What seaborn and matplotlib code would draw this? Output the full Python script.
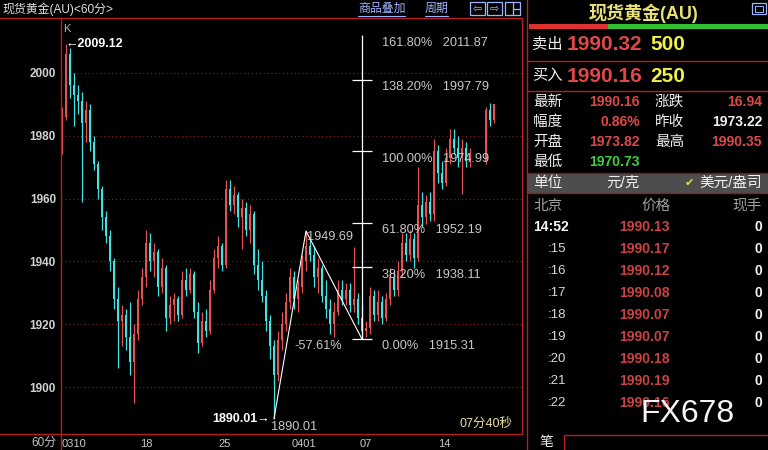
import numpy as np
import pandas as pd
import seaborn as sns
import matplotlib.pyplot as plt
from matplotlib.patches import Rectangle

# K线数据 (0310 - 0418)
opens = [1976, 1986, 2006, 1996, 1993, 1991, 1984, 1988, 1978, 1971,
         1963, 1954, 1948, 1940, 1928, 1921, 1923, 1916, 1908, 1917,
         1928, 1935, 1946, 1940, 1943, 1932, 1938, 1922, 1926, 1928,
         1923, 1934, 1931, 1936, 1924, 1914, 1921, 1918, 1931, 1941,
         1945, 1939, 1963, 1958, 1961, 1954, 1957, 1950, 1955, 1939,
         1934, 1929, 1921, 1913, 1904, 1915, 1920, 1927, 1935, 1928,
         1932, 1940, 1945, 1942, 1935, 1938, 1929, 1925, 1920, 1924,
         1931, 1928, 1931, 1926, 1928, 1922, 1918, 1919, 1929, 1923,
         1927, 1922, 1928, 1935, 1931, 1937, 1946, 1942, 1947, 1941,
         1958, 1954, 1959, 1955, 1975, 1968, 1965, 1973, 1979, 1976,
         1973, 1976, 1972, np.nan, np.nan, np.nan, 1972, 1988, 1985]
highs = [1989, 2009.12, 2008, 2000, 1996, 1994, 1991, 1990, 1980, 1972,
         1964, 1956, 1950, 1941, 1932, 1926, 1925, 1927, 1920, 1931,
         1938, 1950, 1949, 1946, 1944, 1941, 1939, 1929, 1930, 1929,
         1937, 1938, 1938, 1937, 1927, 1924, 1925, 1934, 1944, 1948,
         1946, 1966, 1966, 1964, 1962, 1960, 1959, 1958, 1956, 1944,
         1940, 1931, 1923, 1915, 1918, 1924, 1930, 1938, 1937, 1934,
         1942, 1949.69, 1947, 1945, 1941, 1939, 1934, 1928, 1927, 1934,
         1934, 1933, 1933, 1944.6, 1930, 1926, 1921, 1932, 1931, 1931,
         1929, 1930, 1938, 1937, 1940, 1949, 1949, 1950, 1949, 1970,
         1962, 1961, 1962, 1979, 1977, 1972, 1976, 1982, 1982, 1980,
         1979, 1978, 1976, np.nan, np.nan, np.nan, 1989, 1990.35, 1990.2]
lows = [1974, 1985, 1992, 1983, 1987, 1959, 1978, 1975, 1969, 1960,
        1950, 1946, 1937, 1925, 1906, 1913, 1912, 1904, 1895, 1915,
        1926, 1932, 1937, 1935, 1929, 1930, 1918, 1920, 1921, 1921,
        1922, 1929, 1930, 1922, 1911, 1913, 1916, 1917, 1930, 1938,
        1937, 1938, 1956, 1955, 1951, 1944, 1948, 1946, 1936, 1931,
        1927, 1918, 1909, 1890.01, 1902, 1912, 1918, 1925, 1925, 1924,
        1930, 1937, 1940, 1932, 1930, 1927, 1922, 1917, 1916, 1923,
        1926, 1926, 1924, 1924, 1920, 1915.31, 1916, 1917, 1921, 1921,
        1920, 1921, 1926, 1929, 1929, 1935, 1940, 1940, 1938, 1940,
        1951, 1952, 1953, 1953, 1965, 1963, 1964, 1971, 1974, 1970,
        1961.5, 1970, 1970, np.nan, np.nan, np.nan, 1971, 1983, 1984]
closes = [1986, 2006, 1996, 1993, 1991, 1984, 1988, 1978, 1971, 1963,
          1954, 1948, 1940, 1928, 1921, 1923, 1916, 1908, 1917, 1928,
          1935, 1946, 1940, 1943, 1932, 1938, 1922, 1926, 1928, 1923,
          1934, 1931, 1936, 1924, 1914, 1921, 1918, 1931, 1941, 1945,
          1939, 1963, 1958, 1961, 1954, 1957, 1950, 1955, 1939, 1934,
          1929, 1921, 1913, 1904, 1915, 1920, 1927, 1935, 1928, 1932,
          1940, 1945, 1942, 1935, 1938, 1929, 1925, 1920, 1924, 1931,
          1928, 1931, 1926, 1928, 1922, 1918, 1919, 1929, 1923, 1927,
          1922, 1928, 1935, 1931, 1937, 1946, 1942, 1947, 1941, 1958,
          1954, 1959, 1955, 1975, 1968, 1965, 1973, 1979, 1976, 1973,
          1976, 1972, 1974, np.nan, np.nan, np.nan, 1988, 1985, 1990.16]

date_labels = ['0310', '18', '25', '0401', '07', '14']
date_pos = [0, 19.5, 39, 57.5, 74.5, 94]
y_ticks = [1900, 1920, 1940, 1960, 1980, 2000]

# 黄金分割
swing_idx = [53, 61, 75]
swing_price = [1890.01, 1949.69, 1915.31]
fib_pct = ['161.80%', '138.20%', '100.00%', '61.80%', '38.20%', '0.00%']
fib_price = [2011.87, 1997.79, 1974.99, 1952.19, 1938.11, 1915.31]

# 报价面板
quote_names = [['最新', '涨跌'], ['幅度', '昨收'], ['开盘', '最高'], ['最低', '']]
quote_vals = [['1990.16', '16.94'], ['0.86%', '1973.22'], ['1973.82', '1990.35'], ['1970.73', '']]
quote_cols = [['#e04848', '#e04848'], ['#e04848', '#f0f0f0'], ['#e04848', '#e04848'], ['#3cd03c', '']]
tick_times = ['14:52', ':15', ':16', ':17', ':18', ':19', ':20', ':21', ':22']
tick_prices = ['1990.13', '1990.17', '1990.12', '1990.08', '1990.07',
               '1990.07', '1990.18', '1990.19', '1990.16']
tick_vols = ['0', '0', '0', '0', '0', '0', '0', '0', '0']

sns.set_theme(style='dark', rc={'axes.facecolor': 'black', 'figure.facecolor': 'black'})
plt.rcParams['font.family'] = ['Liberation Sans', 'Noto Sans CJK SC', 'DejaVu Sans']

W, H = 768, 450
fig = plt.figure(figsize=(W / 100, H / 100), dpi=100)
fig.patch.set_facecolor('black')

ax = fig.add_axes([61 / W, (H - 433) / H, (522 - 61) / W, (433 - 18) / H])
ax.set_facecolor('black')
ax.set_xlim(-0.25, 115)
ax.set_ylim(1885.47, 2017.39)
for s in ax.spines.values():
    s.set_visible(False)
ax.grid(False)

for y in y_ticks:
    ax.axhline(y, color='#8a1c1c', lw=0.8, ls=(0, (1, 2.5)), zorder=1)

df = pd.DataFrame({'o': opens, 'h': highs, 'l': lows, 'c': closes})
df['i'] = np.arange(len(df))
df = df.dropna()
up = df['c'] >= df['o']
col = np.where(up, '#e65252', '#3fe3e3')
ax.vlines(df['i'], df['l'], df['h'], colors=col, lw=0.9, zorder=3)
ax.bar(df['i'], np.maximum((df['c'] - df['o']).abs(), 0.4),
       bottom=np.minimum(df['o'], df['c']), width=0.62, color=col, lw=0, zorder=3)

# 黄金分割线
ax.vlines(swing_idx[2], fib_price[-1], fib_price[0], color='white', lw=0.9, zorder=4)
for p in fib_price[1:]:
    ax.hlines(p, swing_idx[2] - 2.5, swing_idx[2] + 2.5, color='white', lw=0.9, zorder=4)
sns.lineplot(x=swing_idx, y=swing_price, ax=ax, color='white', lw=0.8, zorder=4)
for pct, p in zip(fib_pct, fib_price):
    ax.text(80, p - 0.4, f'{pct}   {p:.2f}', color='#c8c8c8', fontsize=9.2, va='top', ha='left', zorder=5)
ax.text(70, swing_price[2] - 0.4, '-57.61%', color='#c8c8c8', fontsize=9.2, va='top', ha='right')
ax.text(61.3, swing_price[1], f'{swing_price[1]:.2f}', color='#c8c8c8', fontsize=9.2, va='top', ha='left')
ax.text(52.3, swing_price[0] - 0.8, f'{swing_price[0]:.2f}', color='#c8c8c8', fontsize=9.2, va='top', ha='left')
ax.text(52, swing_price[0], f'{swing_price[0]:.2f}→', color='white', fontsize=9,
        fontweight='bold', va='center', ha='right')
ax.text(0.8, highs[1], f'←{highs[1]:.2f}', color='white', fontsize=9,
        fontweight='bold', va='center', ha='left')

ax.set_yticks(y_ticks)
ax.tick_params(axis='y', length=0, pad=3.6, labelcolor='#d0d0d0', labelsize=8.5)
for lbl in ax.get_yticklabels():
    lbl.set_fontweight('bold')
ax.set_xticks(date_pos, date_labels)
ax.tick_params(axis='x', length=0, pad=4, labelcolor='#c8c8c8', labelsize=8)
for lbl in ax.get_xticklabels():
    lbl.set_ha('left')

# 叠加层 (像素坐标)
ov = fig.add_axes([0, 0, 1, 1], zorder=10)
ov.set_xlim(0, W)
ov.set_ylim(H, 0)
ov.axis('off')
ov.patch.set_alpha(0)

red = '#b81e1e'
ov.plot([0, 522], [18, 18], color=red, lw=1)
ov.plot([0, 522], [433.5, 433.5], color=red, lw=1)
ov.plot([61, 61], [18, 450], color=red, lw=1)
ov.plot([522, 522], [18, 433.5], color=red, lw=1)
ov.plot([526.5, 526.5], [0, 450], color=red, lw=1)

ov.text(2, 9, '现货黄金(AU)<60分>', color='#e0e0e0', fontsize=8.6, va='center')
ov.text(358, 9, '商品叠加', color='#9fb4ff', fontsize=8.6, va='center')
ov.plot([358, 405], [16, 16], color='#9fb4ff', lw=0.8)
ov.text(425, 9, '周期', color='#9fb4ff', fontsize=8.6, va='center')
ov.plot([425, 448], [16, 16], color='#9fb4ff', lw=0.8)
for x0, g in zip([470, 487, 505], ['⇦', '⇨', '']):
    ov.add_patch(Rectangle((x0, 2), 15, 13, fill=False, ec='#9fb4ff', lw=0.9))
    ov.text(x0 + 7.5, 8.5, g, color='#9fb4ff', fontsize=8, ha='center', va='center',
            family=['DejaVu Sans'])
ov.plot([512.5, 512.5], [2, 15], color='#9fb4ff', lw=0.9)
ov.plot([512.5, 520], [8.5, 8.5], color='#9fb4ff', lw=0.9)
ov.text(63, 29, 'K', color='#b0b0b0', fontsize=8, va='center')
ov.text(486, 424, '07分40秒', color='#e8e0a0', fontsize=9, ha='center', va='center')
ov.text(56, 443, '60分', color='#c0c0c0', fontsize=8.5, ha='right', va='center')

# 右侧报价面板
ov.text(643, 13, '现货黄金(AU)', color='#e8e070', fontsize=13, fontweight='bold', ha='center', va='center')
ov.add_patch(Rectangle((752, 3), 14, 11, fill=False, ec='#9fb4ff', lw=0.9))
ov.add_patch(Rectangle((755, 5.5), 8, 6, fill=False, ec='#9fb4ff', lw=0.7))
ov.add_patch(Rectangle((529, 24), 79, 5, fc='#e03030', lw=0))
ov.add_patch(Rectangle((608, 24), 160, 5, fc='#30c030', lw=0))

for y, name, price, vol in [(45, '卖出', '1990.32', '500'), (76, '买入', '1990.16', '250')]:
    ov.text(532, y, name, color='#f0f0f0', fontsize=11, va='center')
    ov.text(567, y, price, color='#e04848', fontsize=15, fontweight='bold', va='center')
    ov.text(650, y, vol, color='#f0f040', fontsize=15, fontweight='bold', va='center')
ov.plot([528, 768], [61, 61], color=red, lw=1)
ov.plot([528, 768], [91, 91], color=red, lw=1)

for k in range(4):
    y = 102 + 20 * k
    ov.text(533, y, quote_names[k][0], color='#f0f0f0', fontsize=10.5, va='center')
    ov.text(640, y, quote_vals[k][0], color=quote_cols[k][0], fontsize=10, fontweight='bold', ha='right', va='center')
    if quote_names[k][1]:
        ov.text(655, y, quote_names[k][1], color='#f0f0f0', fontsize=10.5, va='center')
        ov.text(762, y, quote_vals[k][1], color=quote_cols[k][1], fontsize=10, fontweight='bold', ha='right', va='center')

ov.add_patch(Rectangle((528, 173), 240, 20, fc='#4d4d4d', lw=0))
ov.plot([528, 768], [173, 173], color='#6a2020', lw=1)
ov.plot([528, 768], [193, 193], color='#8a2020', lw=1)
ov.text(533, 183, '单位', color='#f0f0f0', fontsize=10.5, va='center')
ov.text(623, 183, '元/克', color='#f0f0f0', fontsize=10.5, ha='center', va='center')
ov.text(689, 183, '✔', color='#e8e040', fontsize=8, ha='center', va='center', family=['DejaVu Sans'])
ov.text(699, 183, '美元/盎司', color='#f0f0f0', fontsize=10.5, va='center')

ov.text(533, 206, '北京', color='#a0a0a0', fontsize=10.5, va='center')
ov.text(656, 206, '价格', color='#a0a0a0', fontsize=10.5, ha='center', va='center')
ov.text(762, 206, '现手', color='#a0a0a0', fontsize=10.5, ha='right', va='center')

for k, (t, p, v) in enumerate(zip(tick_times, tick_prices, tick_vols)):
    y = 227 + 22 * k
    if k == 0:
        ov.text(533, y, t, color='#f4f4f4', fontsize=10, fontweight='bold', va='center')
    else:
        ov.text(566, y, t, color='#d8d8d8', fontsize=9.5, ha='right', va='center')
    ov.text(670, y, p, color='#c84444', fontsize=10, fontweight='bold', ha='right', va='center')
    ov.text(762, y, v, color='#f4f4f4', fontsize=10, fontweight='bold', ha='right', va='center')

ov.text(687, 414, 'FX678', color='#f4f4f4', fontsize=23, ha='center', va='center')

ov.plot([564, 768], [435, 435], color=red, lw=1)
ov.plot([564, 564], [435, 450], color=red, lw=1)
ov.text(546, 442, '笔', color='#f0f0f0', fontsize=10, ha='center', va='center')

fig.savefig('out.png', dpi=100, facecolor='black')
